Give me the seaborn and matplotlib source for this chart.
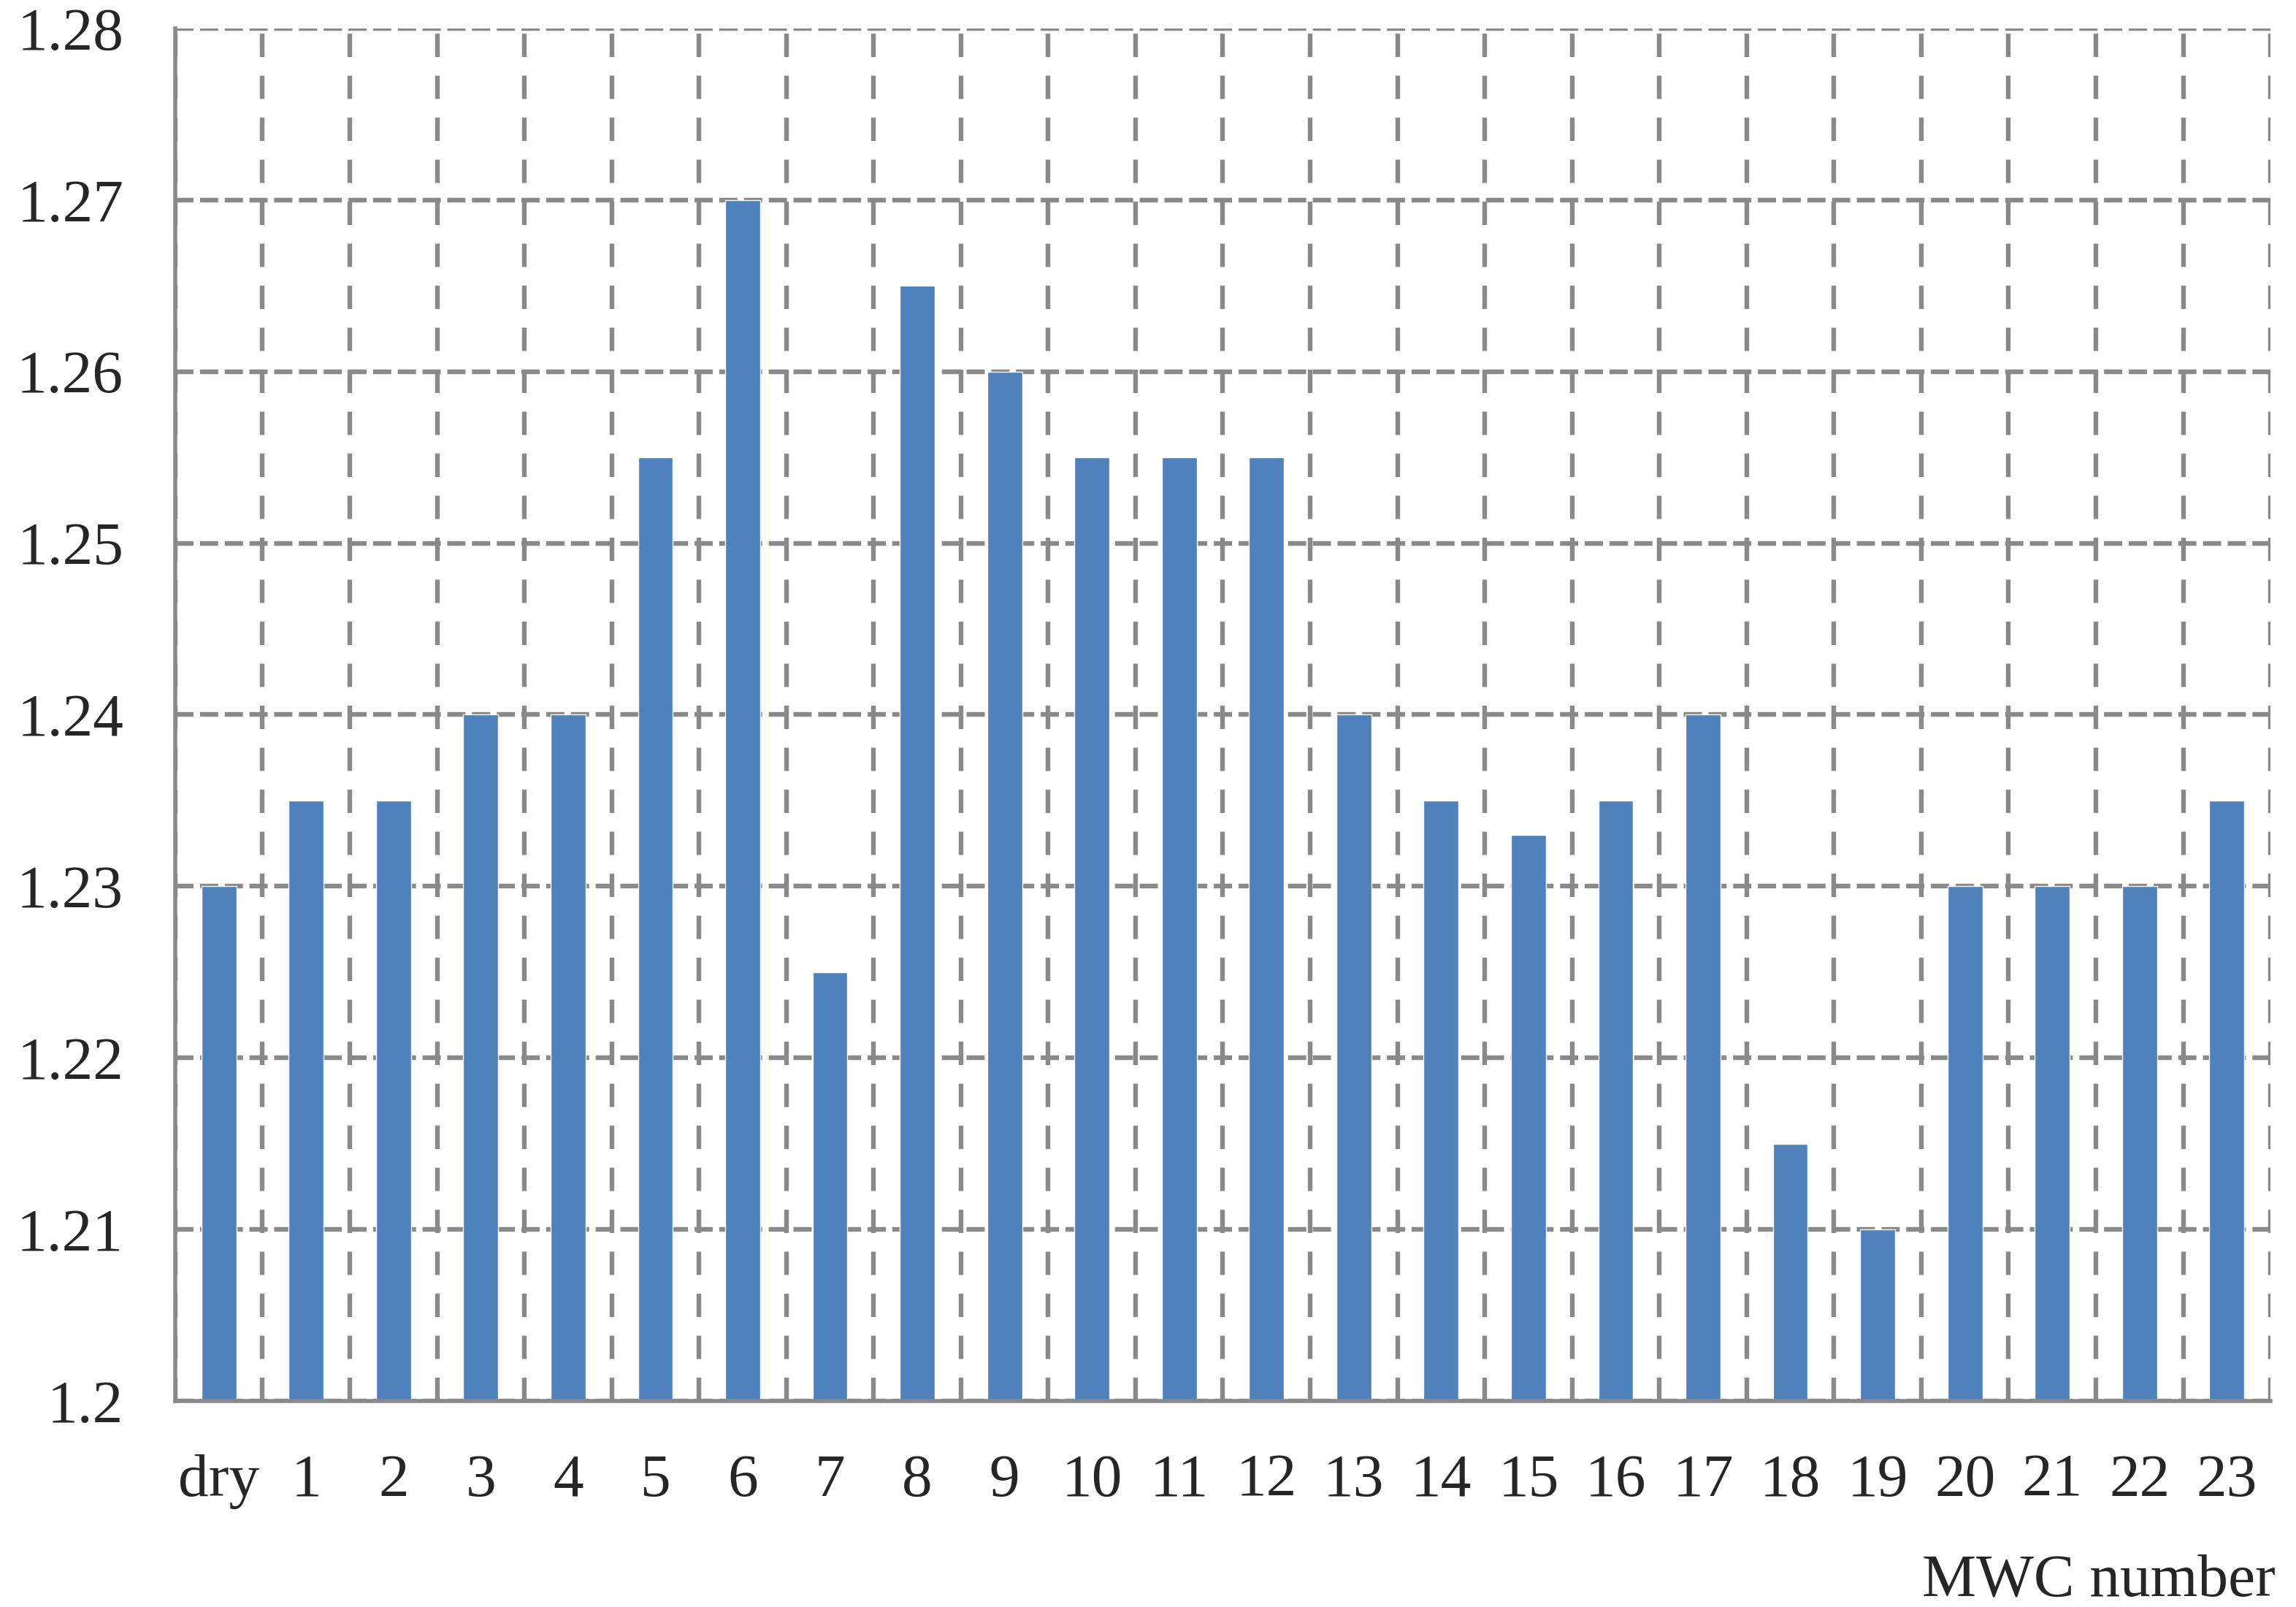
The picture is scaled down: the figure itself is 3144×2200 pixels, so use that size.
import numpy as np
import pandas as pd
import matplotlib
matplotlib.use("Agg")
import matplotlib.pyplot as plt
from matplotlib.ticker import FixedLocator, FuncFormatter
import seaborn as sns

# values
categories = ["dry"] + [str(i) for i in range(1, 24)]
density = [1.230, 1.235, 1.235, 1.240, 1.240, 1.255, 1.270, 1.225, 1.265, 1.260,
           1.255, 1.255, 1.255, 1.240, 1.235, 1.233, 1.235, 1.240, 1.215, 1.210,
           1.230, 1.230, 1.230, 1.235]
y_ticks = [1.20, 1.21, 1.22, 1.23, 1.24, 1.25, 1.26, 1.27, 1.28]

BAR = "#4F81BD"
GRAY = "#898989"
FS = 60

sns.set_style("white")
plt.rcParams["font.family"] = ["Liberation Serif", "DejaVu Serif"]

df = pd.DataFrame({"mwc": categories, "rho": density})

fig = plt.figure(figsize=(31.44, 22), dpi=100)
ax = fig.add_axes([0.0763, 0.1282, 0.9126, 0.8541])

sns.barplot(data=df, x="mwc", y="rho", order=categories, color=BAR,
            saturation=1, width=0.4, ax=ax)

ax.set_xlim(-0.5, len(categories) - 0.5)
ax.set_ylim(1.2, 1.28)
ax.yaxis.set_major_locator(FixedLocator(y_ticks))
ax.yaxis.set_major_formatter(FuncFormatter(lambda v, p: f"{v:g}"))

# category boundaries carry the x ticks and vertical grid
bounds = np.arange(-0.5, len(categories), 1.0)
ax.xaxis.set_minor_locator(FixedLocator(bounds))

ax.set_axisbelow(True)
ax.grid(False)
ax.yaxis.grid(True, which="major", color=GRAY, linewidth=4.6, linestyle=(0, (3.9, 1.4)))
ax.xaxis.grid(True, which="minor", color=GRAY, linewidth=4.6, linestyle=(0, (5.0, 4.0)))

for s in ["top", "right"]:
    ax.spines[s].set_visible(False)
for s in ["left", "bottom"]:
    ax.spines[s].set_color(GRAY)
    ax.spines[s].set_linewidth(4.0)

ax.tick_params(axis="x", which="major", length=0, pad=52, labelsize=FS)
ax.tick_params(axis="x", which="minor", length=17, width=4.0, color=GRAY, direction="out")
ax.tick_params(axis="y", which="major", length=17, width=4.0, color=GRAY, direction="out",
               pad=34, labelsize=FS)
ax.set_xlabel("")
ax.set_ylabel("")

fig.text(0.991, 0.016, "MWC number", ha="right", va="center", fontsize=FS)

fig.savefig("out.png", dpi=100)
